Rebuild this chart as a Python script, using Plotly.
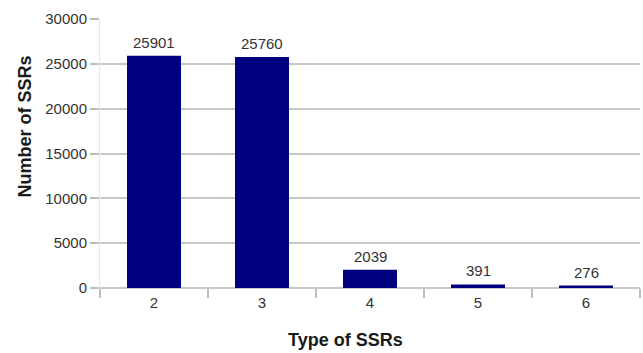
import plotly.graph_objects as go

ssr_types = ["2", "3", "4", "5", "6"]
ssr_counts = [25901, 25760, 2039, 391, 276]
y_ticks = [0, 5000, 10000, 15000, 20000, 25000, 30000]

FONT = "Liberation Sans, Arial, sans-serif"

fig = go.Figure(
    go.Bar(
        x=ssr_types,
        y=ssr_counts,
        width=0.5,
        marker=dict(color="#000080", line=dict(width=0)),
    )
)

# value labels above each bar (category axis positions are 0-based indices)
for idx, val in enumerate(ssr_counts):
    fig.add_annotation(
        x=idx,
        y=val,
        text=str(val),
        showarrow=False,
        yanchor="bottom",
        yshift=3,
        font=dict(family=FONT, size=15, color="#333333"),
    )

fig.update_layout(
    width=643,
    height=353,
    margin=dict(l=100, r=3, t=19, b=65),
    paper_bgcolor="white",
    plot_bgcolor="white",
    showlegend=False,
    font=dict(family=FONT, size=15, color="#333333"),
)

fig.update_xaxes(
    type="category",
    range=[-0.5, len(ssr_types) - 0.5],
    tickson="boundaries",
    ticks="outside",
    ticklen=9,
    tickcolor="#bdbdbd",
    tickwidth=1.5,
    ticklabelstandoff=4,
    showgrid=False,
    showline=False,
    tickfont=dict(size=15, color="#333333"),
)

fig.update_yaxes(
    range=[0, 30000],
    tickvals=y_ticks,
    ticktext=[str(v) for v in y_ticks],
    ticks="outside",
    ticklen=9,
    tickcolor="#bdbdbd",
    tickwidth=1.5,
    showgrid=True,
    gridcolor="#c8c8c8",
    gridwidth=1.5,
    zeroline=True,
    zerolinecolor="#c8c8c8",
    zerolinewidth=1.5,
    showline=True,
    linecolor="#e6e6e6",
    linewidth=1,
    tickfont=dict(size=15, color="#333333"),
)

fig.add_annotation(
    text="<b>Number of SSRs</b>",
    textangle=-90,
    xref="paper",
    yref="paper",
    x=-0.139,
    y=0.60,
    xanchor="center",
    yanchor="middle",
    showarrow=False,
    font=dict(family=FONT, size=18, color="#1a1a1a"),
)

fig.add_annotation(
    text="<b>Type of SSRs</b>",
    xref="paper",
    yref="paper",
    x=0.454,
    y=-0.195,
    xanchor="center",
    yanchor="middle",
    showarrow=False,
    font=dict(family=FONT, size=18, color="#1a1a1a"),
)

fig.write_html("out.html")
